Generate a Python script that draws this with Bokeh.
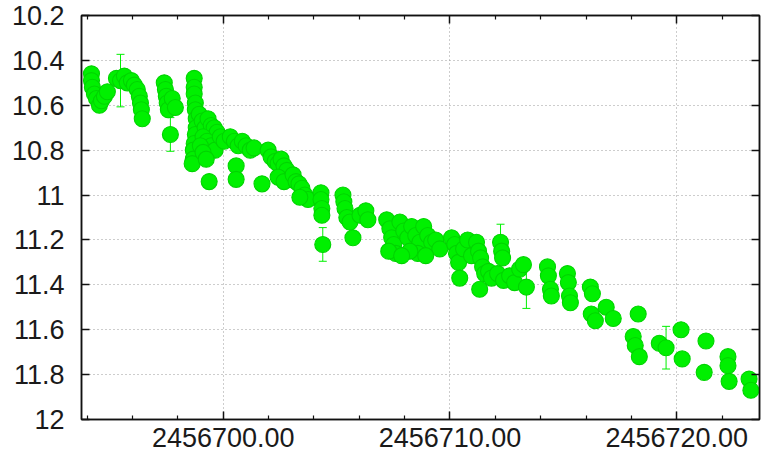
from bokeh.plotting import figure
from bokeh.models import (ColumnDataSource, Range1d, FixedTicker, LinearAxis,
                          Whisker, TeeHead, CustomLabelingPolicy)
from bokeh.embed import file_html
from bokeh.resources import INLINE

# Light curve: Julian date, magnitude and 1-sigma error
jd = [
    2456694.19, 2456694.19, 2456694.23, 2456694.32, 2456694.41, 2456694.54, 2456694.63, 2456694.76, 2456694.89,
    2456695.29, 2456695.47, 2456695.64, 2456695.77, 2456695.95, 2456696.08, 2456696.21, 2456696.30, 2456696.35, 2456696.39, 2456696.43,
    2456697.40, 2456697.45, 2456697.49, 2456697.53, 2456697.58, 2456697.75, 2456697.89, 2456697.67,
    2456698.72, 2456698.72, 2456698.72, 2456698.77, 2456698.77, 2456698.81, 2456698.81, 2456698.77, 2456698.72, 2456698.68, 2456698.68, 2456698.63,
    2456698.94, 2456699.07, 2456699.20, 2456699.33, 2456699.47, 2456699.60, 2456699.73, 2456699.11, 2456699.29, 2456699.47, 2456699.64, 2456699.87, 2456700.04, 2456698.99, 2456699.11, 2456699.25, 2456699.38,
    2456700.31, 2456700.49, 2456700.66, 2456700.84, 2456701.01, 2456701.19, 2456701.36, 2456700.57, 2456700.57, 2456701.71,
    2456701.98, 2456702.11, 2456702.29, 2456702.42, 2456702.55, 2456702.68, 2456702.81, 2456702.42, 2456702.68,
    2456703.08, 2456703.21, 2456703.34, 2456703.47, 2456703.60, 2456703.74, 2456703.38,
    2456704.31, 2456704.31, 2456704.35, 2456704.35, 2456704.39,
    2456705.28, 2456705.32, 2456705.37, 2456705.45, 2456705.59, 2456705.72, 2456706.03, 2456706.29, 2456706.38,
    2456707.21, 2456707.35, 2456707.43, 2456707.52, 2456707.61, 2456707.30, 2456707.79, 2456707.96, 2456708.14, 2456708.31, 2456708.49,
    2456708.67, 2456708.58, 2456708.23, 2456708.84, 2456709.02, 2456709.19, 2456709.37, 2456709.55, 2456707.87, 2456708.93,
    2456710.07, 2456710.21, 2456710.29, 2456710.38, 2456710.43, 2456710.60, 2456710.78, 2456710.95,
    2456711.17, 2456711.26, 2456711.35, 2456711.44, 2456711.53, 2456711.31, 2456711.70, 2456711.83,
    2456712.23, 2456712.28, 2456712.32, 2456712.10, 2456712.36, 2456712.63, 2456712.85, 2456713.07, 2456713.24, 2456713.37,
    2456714.30, 2456714.34, 2456714.43, 2456714.47, 2456715.18, 2456715.22, 2456715.27, 2456715.31,
    2456716.19, 2456716.28, 2456716.23, 2456716.41, 2456716.89, 2456717.20,
    2456718.30, 2456718.08, 2456718.17, 2456718.35,
    2456719.23, 2456719.53, 2456720.19, 2456720.24,
    2456721.29, 2456721.21, 2456722.26, 2456722.26, 2456722.31, 2456723.19, 2456723.27,
]
mag = [
    10.46, 10.49, 10.52, 10.55, 10.57, 10.60, 10.58, 10.56, 10.54,
    10.48, 10.49, 10.47, 10.50, 10.49, 10.51, 10.53, 10.56, 10.59, 10.62, 10.66,
    10.50, 10.53, 10.56, 10.59, 10.62, 10.57, 10.61, 10.73,
    10.48, 10.52, 10.55, 10.59, 10.62, 10.66, 10.70, 10.73, 10.77, 10.80, 10.84, 10.86,
    10.64, 10.67, 10.70, 10.66, 10.69, 10.70, 10.72, 10.74, 10.76, 10.78, 10.80, 10.74, 10.76, 10.78, 10.81, 10.84, 10.94,
    10.74, 10.76, 10.78, 10.76, 10.78, 10.80, 10.79, 10.87, 10.93, 10.95,
    10.80, 10.83, 10.85, 10.86, 10.84, 10.87, 10.89, 10.92, 10.94,
    10.91, 10.94, 10.95, 10.97, 11.00, 11.02, 11.01,
    10.99, 11.02, 11.06, 11.09, 11.22,
    11.00, 11.03, 11.06, 11.10, 11.12, 11.19, 11.09, 11.07, 11.11,
    11.11, 11.15, 11.19, 11.22, 11.26, 11.25, 11.12, 11.16, 11.19, 11.14, 11.18,
    11.21, 11.26, 11.25, 11.14, 11.18, 11.21, 11.20, 11.24, 11.27, 11.27,
    11.19, 11.22, 11.26, 11.30, 11.37, 11.24, 11.20, 11.27,
    11.21, 11.25, 11.28, 11.32, 11.35, 11.42, 11.34, 11.37,
    11.21, 11.25, 11.28, 11.35, 11.38, 11.36, 11.39, 11.33, 11.31, 11.41,
    11.32, 11.36, 11.42, 11.45, 11.35, 11.39, 11.45, 11.48,
    11.41, 11.44, 11.53, 11.56, 11.50, 11.55,
    11.53, 11.63, 11.67, 11.72,
    11.66, 11.68, 11.60, 11.73,
    11.65, 11.79, 11.72, 11.76, 11.83, 11.82, 11.87,
]
err = [
    0.02, 0.02, 0.02, 0.02, 0.02, 0.02, 0.02, 0.02, 0.02,
    0.02, 0.117, 0.02, 0.02, 0.02, 0.02, 0.02, 0.02, 0.02, 0.02, 0.02,
    0.02, 0.02, 0.02, 0.02, 0.02, 0.02, 0.02, 0.075,
    0.02, 0.02, 0.02, 0.02, 0.02, 0.02, 0.02, 0.02, 0.02, 0.02, 0.02, 0.02,
    0.02, 0.02, 0.02, 0.02, 0.02, 0.02, 0.02, 0.02, 0.02, 0.02, 0.02, 0.02, 0.02, 0.02, 0.02, 0.02, 0.02,
    0.02, 0.02, 0.02, 0.02, 0.02, 0.02, 0.02, 0.02, 0.02, 0.02,
    0.02, 0.02, 0.02, 0.02, 0.02, 0.02, 0.02, 0.02, 0.02,
    0.02, 0.02, 0.02, 0.02, 0.02, 0.02, 0.02,
    0.02, 0.02, 0.02, 0.02, 0.075,
    0.02, 0.02, 0.02, 0.02, 0.02, 0.02, 0.02, 0.02, 0.02,
    0.02, 0.02, 0.02, 0.02, 0.02, 0.02, 0.02, 0.02, 0.02, 0.02, 0.02,
    0.02, 0.02, 0.02, 0.02, 0.02, 0.02, 0.02, 0.02, 0.02, 0.02,
    0.02, 0.02, 0.02, 0.02, 0.02, 0.02, 0.02, 0.02,
    0.02, 0.02, 0.02, 0.02, 0.02, 0.02, 0.02, 0.02,
    0.08, 0.02, 0.02, 0.02, 0.02, 0.02, 0.02, 0.02, 0.02, 0.095,
    0.02, 0.02, 0.02, 0.02, 0.02, 0.02, 0.02, 0.02,
    0.02, 0.02, 0.02, 0.02, 0.02, 0.02,
    0.02, 0.02, 0.02, 0.02,
    0.02, 0.095, 0.02, 0.02,
    0.02, 0.02, 0.02, 0.02, 0.02, 0.02, 0.02,
]

x_ticks = [2456700, 2456710, 2456720]
x_tick_labels = ["2456700.00", "2456710.00", "2456720.00"]
x_minor = [2456694, 2456696, 2456698, 2456702, 2456704, 2456706, 2456708,
           2456712, 2456714, 2456716, 2456718, 2456722]
y_ticks = [10.2, 10.4, 10.6, 10.8, 11.0, 11.2, 11.4, 11.6, 11.8, 12.0]
y_tick_labels = ["10.2", "10.4", "10.6", "10.8", "11", "11.2", "11.4", "11.6", "11.8", "12"]

GREEN = "#00f000"
FONT = "Liberation Sans"

src = ColumnDataSource(dict(
    jd=jd, mag=mag,
    lo=[m - e for m, e in zip(mag, err)],
    hi=[m + e for m, e in zip(mag, err)],
))

p = figure(width=765, height=466, output_backend="svg", toolbar_location=None,
           x_range=Range1d(2456693.75, 2456723.65),
           y_range=Range1d(12.0, 10.2),
           x_axis_location=None, y_axis_location=None,
           min_border_left=81, min_border_right=6,
           min_border_top=15, min_border_bottom=47)
p.background_fill_color = "white"
p.border_fill_color = "white"
p.outline_line_color = "#111111"
p.outline_line_width = 1.5

xt = FixedTicker(ticks=x_ticks, minor_ticks=x_minor)
yt = FixedTicker(ticks=y_ticks, minor_ticks=[])

# mirror axes (top/right) carry ticks only
no_labels = CustomLabelingPolicy(code="return new Set()")


def style_axis(ax, labels):
    ax.axis_line_color = "#111111"
    ax.axis_line_width = 1.5
    ax.major_tick_line_color = "#111111"
    ax.major_tick_line_width = 1.5
    ax.minor_tick_line_color = "#111111"
    ax.minor_tick_line_width = 1.2
    ax.major_tick_in = 8
    ax.major_tick_out = 0
    ax.minor_tick_in = 4
    ax.minor_tick_out = 0
    if labels:
        ax.major_label_text_font = FONT
        ax.major_label_text_font_size = "27px"
        ax.major_label_text_color = "#1a1a1a"
    else:
        ax.major_label_policy = no_labels
        ax.major_label_text_font_size = "1px"
        ax.major_label_standoff = 0


bottom = LinearAxis(ticker=xt,
                    major_label_overrides={t: s for t, s in zip(x_ticks, x_tick_labels)})
style_axis(bottom, True)
bottom.major_label_standoff = 8
top = LinearAxis(ticker=xt)
style_axis(top, False)
left = LinearAxis(ticker=yt,
                  major_label_overrides={t: s for t, s in zip(y_ticks, y_tick_labels)})
style_axis(left, True)
left.major_label_standoff = 17
right = LinearAxis(ticker=yt)
style_axis(right, False)

p.add_layout(bottom, "below")
p.add_layout(top, "above")
p.add_layout(left, "left")
p.add_layout(right, "right")

p.xgrid.ticker = xt
p.ygrid.ticker = yt
for g in (p.xgrid, p.ygrid):
    g.grid_line_color = "#9a9a9a"
    g.grid_line_dash = "1 3"
    g.grid_line_width = 1

whisk = Whisker(source=src, base="jd", lower="lo", upper="hi", dimension="height",
                line_color=GREEN, line_width=1,
                upper_head=TeeHead(size=8, line_color=GREEN, line_width=1),
                lower_head=TeeHead(size=8, line_color=GREEN, line_width=1))
p.add_layout(whisk)

p.scatter("jd", "mag", source=src, marker="circle", size=16,
          fill_color=GREEN, line_color="#00d400", line_width=1.1)

open("out.html", "w").write(file_html(p, INLINE))
